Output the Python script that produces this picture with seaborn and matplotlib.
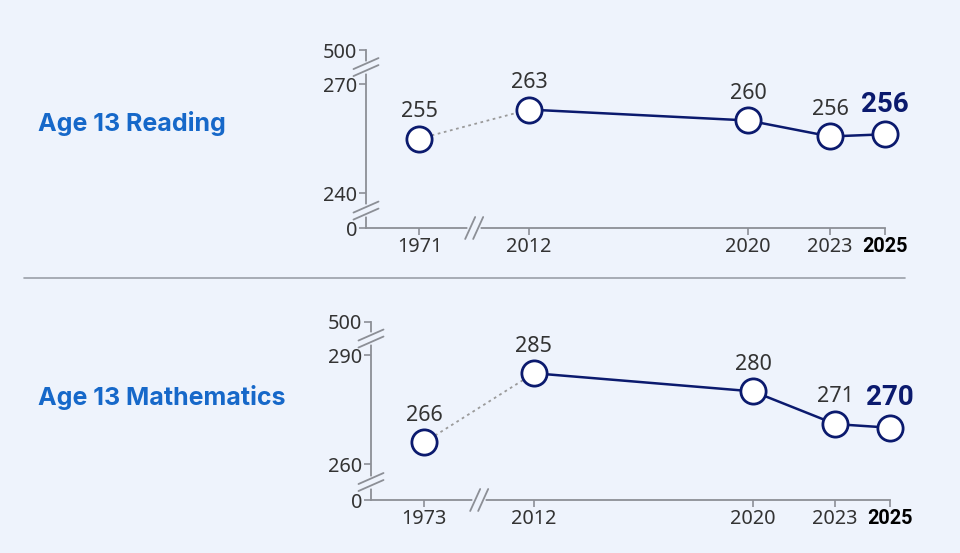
import pandas as pd
import seaborn as sns
import matplotlib.pyplot as plt
from matplotlib.lines import Line2D

# values
reading_years = [1971, 2012, 2020, 2023, 2025]
reading_scores = [255, 263, 260, 255.6, 256.2]
reading_labels = ["255", "263", "260", "256", "256"]
reading_yticks = ["0", "240", "270", "500"]

math_years = [1973, 2012, 2020, 2023, 2025]
math_scores = [266, 285, 280, 271, 270]
math_labels = ["266", "285", "280", "271", "270"]
math_yticks = ["0", "260", "290", "500"]

BG = "#eef3fc"
NAVY = "#0b1a6e"
TITLE_BLUE = "#1668c9"
AXIS_GRAY = "#8c8f96"
TEXT = "#333333"
BOLD_FONT = ["Roboto", "DejaVu Sans"]

sns.set_theme(style="white")
plt.rcParams['font.family'] = ['Noto Sans', 'DejaVu Sans']

fig = plt.figure(figsize=(9.6, 5.53), dpi=100, facecolor=BG)
W, H = 960, 553


def px_axes(left, top, right, bottom):
    return fig.add_axes([left / W, (H - bottom) / H, (right - left) / W, (bottom - top) / H])


def slash(ax, x, y, dx, dy, gap, vertical_axis):
    # break mark: erase a bit of the spine, then two parallel slashes
    w = ax.bbox.width
    h = ax.bbox.height
    if vertical_axis:
        ax.plot([x, x], [y - gap / h, y + gap / h], color=BG, lw=4,
                transform=ax.transAxes, clip_on=False, zorder=5)
        offs = [(0, -gap / h), (0, gap / h)]
    else:
        ax.plot([x - gap / w, x + gap / w], [y, y], color=BG, lw=4,
                transform=ax.transAxes, clip_on=False, zorder=5)
        offs = [(-gap / w, 0), (gap / w, 0)]
    for ox, oy in offs:
        ax.add_line(Line2D([x + ox - dx / w, x + ox + dx / w],
                           [y + oy - dy / h, y + oy + dy / h],
                           color=AXIS_GRAY, lw=1.3, transform=ax.transAxes,
                           clip_on=False, zorder=6))


def panel(ax, years, scores, labels, ytick_labels, ylo, yhi, ymid):
    xpos = [2008 if y < 2012 else y for y in years]
    df = pd.DataFrame({"x": xpos, "score": scores, "label": labels})
    ax.set_facecolor(BG)

    # dotted link from the first year to 2012, solid after
    sns.lineplot(data=df.iloc[:2], x="x", y="score", ax=ax, color="#9a9a9a",
                 lw=1.3, linestyle=(0, (1.5, 2)), zorder=2)
    sns.lineplot(data=df.iloc[1:], x="x", y="score", ax=ax, color=NAVY,
                 lw=1.8, zorder=3)
    sns.scatterplot(data=df, x="x", y="score", ax=ax, s=330, color="white",
                    edgecolor=NAVY, linewidth=2.0, zorder=4, clip_on=False)

    for i, r in df.iterrows():
        if i == len(df) - 1:
            ax.annotate(r["label"], (r["x"], r["score"]), xytext=(0, 12),
                        textcoords="offset points", ha="center", va="bottom",
                        fontsize=20, fontweight="bold", family=BOLD_FONT,
                        color=NAVY, zorder=7)
        else:
            ax.annotate(r["label"], (r["x"], r["score"]), xytext=(0, 12),
                        textcoords="offset points", ha="center", va="bottom",
                        fontsize=15.5, color=TEXT, zorder=7)

    ax.set_xlim(2006.05, 2025)
    ax.set_ylim(ylo, yhi)
    ax.set_xticks(xpos)
    ax.set_xticklabels([str(y) for y in years])
    ax.set_yticks([ylo, ymid[0], ymid[1], yhi])
    ax.set_yticklabels(ytick_labels)
    ax.set_xlabel("")
    ax.set_ylabel("")
    for s in ["top", "right"]:
        ax.spines[s].set_visible(False)
    for s in ["left", "bottom"]:
        ax.spines[s].set_color(AXIS_GRAY)
        ax.spines[s].set_linewidth(1.3)
    ax.tick_params(axis="both", colors=AXIS_GRAY, length=5, width=1.2,
                   labelcolor=TEXT, labelsize=14.3, pad=1.5, left=True, bottom=True)
    xt = ax.get_xticklabels()
    xt[-1].set_fontweight("bold")
    xt[-1].set_family(BOLD_FONT)
    xt[-1].set_fontsize(14.3)
    xt[-1].set_color("black")

    # break marks on both axes
    tl = ax.transLimits
    yb_low = tl.transform((2010, (ylo + ymid[0]) / 2))[1]
    yb_high = tl.transform((2010, (ymid[1] + yhi) / 2))[1]
    slash(ax, 0, yb_low, 12.5, 5.5, 3.5, True)
    slash(ax, 0, yb_high, 12.5, 5.5, 3.5, True)
    xb = tl.transform((2010, ylo))[0]
    slash(ax, xb, 0, 5, 11, 4, False)


ax1 = px_axes(366, 50, 885, 228)
panel(ax1, reading_years, reading_scores, reading_labels, reading_yticks,
      230.4, 279.4, (240, 270))

ax2 = px_axes(371, 322, 890, 500)
panel(ax2, math_years, math_scores, math_labels, math_yticks,
      250.1, 299.1, (260, 290))

fig.text(38 / W, 1 - 123 / H, "Age 13 Reading", fontsize=18, fontweight="bold",
         color=TITLE_BLUE, va="center", ha="left", family=["Inter", "DejaVu Sans"])
fig.text(38 / W, 1 - 397 / H, "Age 13 Mathematics", fontsize=18, fontweight="bold",
         color=TITLE_BLUE, va="center", ha="left", family=["Inter", "DejaVu Sans"])

fig.add_artist(Line2D([24 / W, 905 / W], [1 - 278 / H, 1 - 278 / H],
                      transform=fig.transFigure, color="#9aa0a8", lw=1.2))

fig.savefig("out.png", dpi=100, facecolor=BG)
